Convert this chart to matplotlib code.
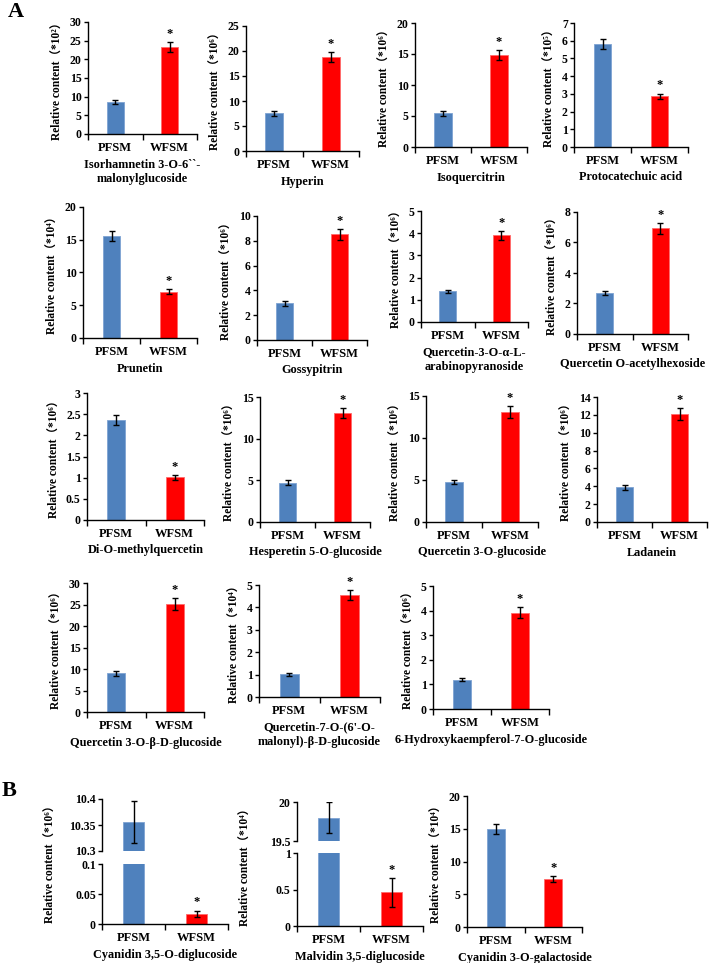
import matplotlib
matplotlib.use('Agg')
import matplotlib.pyplot as plt
from matplotlib.ticker import FixedLocator, FuncFormatter

# ---------------- data ----------------
groups = ['PFSM', 'WFSM']

compounds_a = [
    'Isorhamnetin 3-O-6``-\nmalonylglucoside', 'Hyperin', 'Isoquercitrin', 'Protocatechuic acid',
    'Prunetin', 'Gossypitrin', 'Quercetin-3-O-α-L-\narabinopyranoside', 'Quercetin O-acetylhexoside',
    'Di-O-methylquercetin', 'Hesperetin 5-O-glucoside', 'Quercetin 3-O-glucoside', 'Ladanein',
    'Quercetin 3-O-β-D-glucoside', "Quercetin-7-O-(6'-O-\nmalonyl)-β-D-glucoside",
    '6-Hydroxykaempferol-7-O-glucoside',
]
pfsm_a = [8.66, 7.55, 5.43, 5.82, 15.57, 2.95, 1.38, 2.69, 2.37, 4.73, 4.76, 3.87, 8.96, 1.01, 1.19]
pfsm_err_a = [0.55, 0.50, 0.38, 0.29, 0.79, 0.17, 0.08, 0.13, 0.12, 0.32, 0.26, 0.26, 0.55, 0.08, 0.06]
wfsm_a = [23.3, 18.7, 14.84, 2.86, 7.07, 8.53, 3.91, 6.93, 1.01, 13.04, 13.06, 12.1, 25.17, 4.54, 3.91]
wfsm_err_a = [1.35, 1.0, 0.83, 0.16, 0.40, 0.45, 0.20, 0.35, 0.06, 0.62, 0.71, 0.67, 1.36, 0.22, 0.22]
exp_a = ['²', '⁶', '⁶', '⁵', '⁴', '⁶', '⁶', '⁶', '⁶', '⁶', '⁶', '⁶', '⁶', '⁴', '⁶']
ymax_a = [30, 25, 20, 7, 20, 10, 5, 8, 3, 15, 15, 14, 30, 5, 5]
ystep_a = [5, 5, 5, 1, 5, 2, 1, 2, 0.5, 5, 5, 2, 5, 1, 1]

compounds_b = ['Cyanidin 3,5-O-diglucoside', 'Malvidin 3,5-diglucoside', 'Cyanidin 3-O-galactoside']
pfsm_b = [10.356, 19.80, 14.9]
pfsm_err_b = [0.040, 0.20, 0.75]
wfsm_b = [0.0167, 0.46, 7.35]
wfsm_err_b = [0.0057, 0.20, 0.45]
exp_b = ['⁶', '⁴', '⁴']
upper_ticks_b = [[10.3, 10.35, 10.4], [19.5, 20], None]
lower_ticks_b = [[0, 0.05, 0.1], [0, 0.5, 1], [0, 5, 10, 15, 20]]

# ---------------- layout (pixels: left, top, right, bottom) ----------------
W, H = 709, 963
rects_a = [
    (88, 22, 197, 134), (246, 26, 359, 151), (415, 23, 527, 147), (574, 23, 688, 147),
    (83, 207, 197, 338), (257, 216, 367, 340), (421, 211, 528, 322), (577, 212, 688, 334),
    (87, 393, 204, 520), (260, 397, 370, 522), (426, 396, 538, 522), (597, 397, 707, 522),
    (87, 583, 204, 712), (259, 585, 380, 697), (433, 586, 549, 709),
]
rects_b_upper = [(102, 799, 228, 851), (297, 802, 423, 841), None]
rects_b_lower = [(102, 864, 228, 924), (297, 853, 423, 926), (467, 796, 582, 927)]

BLUE = '#4F81BD'
RED = '#FF0000'
FONTS = ['Liberation Serif', 'DejaVu Serif', 'Noto Sans CJK SC']
plt.rcParams['font.family'] = FONTS
plt.rcParams['font.weight'] = 'bold'
plt.rcParams['axes.labelweight'] = 'bold'

TICK_FS = 8.5
GROUP_FS = 9
NAME_FS = 8.8
YLAB_FS = 8.3

fig = plt.figure(figsize=(W / 100, H / 100), dpi=100)


def px_axes(r):
    l, t, rr, b = r
    return fig.add_axes([l / W, 1 - b / H, (rr - l) / W, (b - t) / H])


fmt = FuncFormatter(lambda v, p: f'{v:g}')


def style(ax, xaxis=True):
    for s in ('top', 'right'):
        ax.spines[s].set_visible(False)
    ax.spines['left'].set_linewidth(1.0)
    ax.tick_params(axis='y', direction='out', length=3, width=1, labelsize=TICK_FS, pad=1.5)
    ax.yaxis.set_major_formatter(fmt)
    ax.set_xlim(-0.5, 1.5)
    if xaxis:
        ax.spines['bottom'].set_linewidth(1.0)
        ax.set_xticks([0, 1])
        ax.set_xticklabels(groups)
        ax.xaxis.set_minor_locator(FixedLocator([-0.5, 0.5, 1.5]))
        ax.tick_params(axis='x', which='major', length=0, labelsize=GROUP_FS, pad=6)
        ax.tick_params(axis='x', which='minor', direction='out', length=4, width=1)
    else:
        ax.spines['bottom'].set_visible(False)
        ax.set_xticks([])


def draw_bars(ax, p, pe, w, we, bw, err_p=True, err_w=True):
    xs = [0, 1]
    ax.bar(xs, [p, w], width=bw, color=[BLUE, RED], edgecolor=['#7EA3D3', '#FF6A6A'], linewidth=0.6)
    if err_p:
        ax.errorbar([0], [p], yerr=[pe], fmt='none', ecolor='black', elinewidth=1, capsize=2.2, capthick=1)
    if err_w:
        ax.errorbar([1], [w], yerr=[we], fmt='none', ecolor='black', elinewidth=1, capsize=2.2, capthick=1)


def star(ax, w, we):
    ax.annotate('*', xy=(1, w + we), xytext=(0, 1.5), textcoords='offset points',
                ha='center', va='bottom', fontsize=9, annotation_clip=False)


# ---------------- panel A ----------------
for i, r in enumerate(rects_a):
    ax = px_axes(r)
    style(ax)
    draw_bars(ax, pfsm_a[i], pfsm_err_a[i], wfsm_a[i], wfsm_err_a[i], 0.31)
    ax.set_ylim(0, ymax_a[i])
    n = int(round(ymax_a[i] / ystep_a[i]))
    ax.set_yticks([k * ystep_a[i] for k in range(n + 1)])
    star(ax, wfsm_a[i], wfsm_err_a[i])
    ax.set_ylabel(f'Relative content（*10{exp_a[i]}）', fontsize=YLAB_FS, labelpad=4)
    ax.set_xlabel(compounds_a[i], fontsize=NAME_FS, labelpad=3, linespacing=1.3)

# ---------------- panel B ----------------
for i in range(3):
    low = px_axes(rects_b_lower[i])
    style(low)
    lt = lower_ticks_b[i]
    low.set_ylim(lt[0], lt[-1])
    low.set_yticks(lt)
    draw_bars(low, pfsm_b[i], pfsm_err_b[i], wfsm_b[i], wfsm_err_b[i], 0.32)
    star(low, wfsm_b[i], wfsm_err_b[i])
    low.set_xlabel(compounds_b[i], fontsize=NAME_FS, labelpad=3)
    label = f'Relative content（*10{exp_b[i]}）'
    if rects_b_upper[i] is not None:
        up = px_axes(rects_b_upper[i])
        style(up, xaxis=False)
        ut = upper_ticks_b[i]
        up.set_ylim(ut[0], ut[-1])
        up.set_yticks(ut)
        draw_bars(up, pfsm_b[i], pfsm_err_b[i], wfsm_b[i], wfsm_err_b[i], 0.32)
        lu, tu, _, _ = rects_b_upper[i]
        _, _, _, bl = rects_b_lower[i]
        ymid = (tu + bl) / 2
        fig.text((lu - 51) / W, 1 - ymid / H, label, rotation=90, ha='center', va='center', fontsize=YLAB_FS)
    else:
        low.set_ylabel(label, fontsize=YLAB_FS, labelpad=4)

fig.text(16 / W, 1 - 12 / H, 'A', fontsize=16, ha='center', va='center', weight='bold')
fig.text(9 / W, 1 - 791 / H, 'B', fontsize=16, ha='center', va='center', weight='bold')

fig.savefig('out.png', dpi=100)
